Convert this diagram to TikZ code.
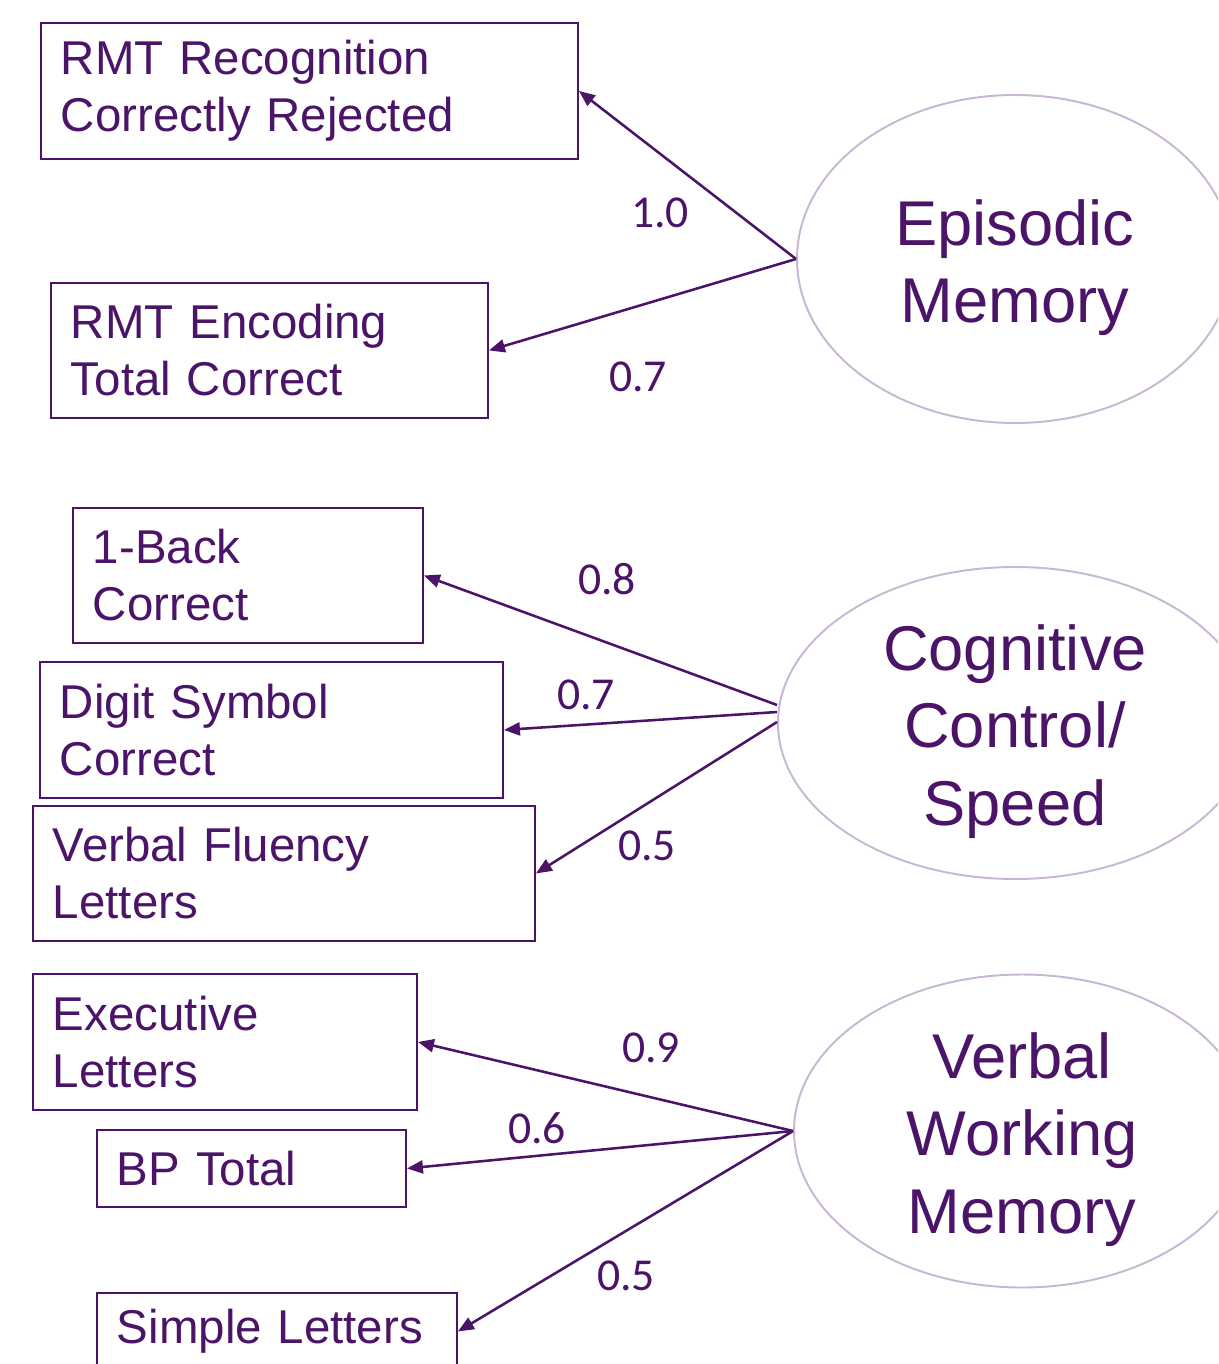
\documentclass[tikz,border=0pt]{standalone}
\usepackage{fontspec}
\setmainfont{Liberation Sans}
\newfontfamily\numfont{Carlito}
\usetikzlibrary{arrows.meta}
\usetikzlibrary{shapes.geometric}
\definecolor{plum}{HTML}{4B1468}
\definecolor{lilac}{HTML}{C8B6D4}

\begin{document}
\begin{tikzpicture}[->, >={Triangle[length=0.32cm,width=0.26cm]}, line width=1.45pt, color=plum,
        obs/.style={draw=plum, rectangle, line width=1.1pt, align=left, inner xsep=0.4cm, inner ysep=0pt,
                    anchor=north west, font=\fontsize{27}{32.5}\selectfont},
        latent/.style={draw=lilac, ellipse, line width=1.1pt, inner sep=0pt},
        lattext/.style={align=center, yshift=-0.17cm, font=\fontsize{36}{44}\selectfont},
        load/.style={font=\numfont\fontsize{26}{30}\selectfont}]
        \clip (0,0) rectangle (24.36,-27.28);

        \node[latent, minimum width=8.72cm, minimum height=6.56cm,
              label={[lattext]center:{Episodic\\Memory}}] (epi) at (20.30,-5.18) {};
        \node[latent, minimum width=9.48cm, minimum height=6.24cm,
              label={[lattext]center:{Cognitive\\Control/\\Speed}}] (cog) at (20.30,-14.46) {};
        \node[latent, minimum width=9.12cm, minimum height=6.26cm,
              label={[lattext]center:{Verbal\\Working\\Memory}}] (vwm) at (20.44,-22.62) {};

        \node[obs, text width=9.94cm, minimum height=2.72cm] (rmtrec) at (0.80,-0.44) {RMT Recognition\\Correctly Rejected};
        \node[obs, text width=7.94cm, minimum height=2.70cm] (rmtenc) at (1.00,-5.64) {RMT Encoding\\Total Correct};
        \node[obs, text width=6.20cm, minimum height=2.70cm] (oneback) at (1.44,-10.14) {1-Back\\Correct};
        \node[obs, text width=8.46cm, minimum height=2.72cm] (digit) at (0.78,-13.22) {Digit Symbol\\Correct};
        \node[obs, text width=9.24cm, minimum height=2.70cm] (fluency) at (0.64,-16.10) {Verbal Fluency\\Letters};
        \node[obs, text width=6.88cm, minimum height=2.72cm] (exec) at (0.64,-19.46) {Executive\\Letters};
        \node[obs, text width=5.38cm, minimum height=1.54cm] (bp) at (1.92,-22.58) {BP Total};
        \node[obs, text width=6.40cm, minimum height=1.54cm] (simple) at (1.92,-25.84) {Simple Letters};

        \node[load] (lrec) at (13.20,-4.26) {1.0};
        \node[load] (lenc) at (12.76,-7.54) {0.7};
        \node[load] (lback) at (12.14,-11.58) {0.8};
        \node[load] (ldigit) at (11.72,-13.90) {0.7};
        \node[load] (lflu) at (12.94,-16.92) {0.5};
        \node[load] (lexec) at (13.02,-20.96) {0.9};
        \node[load] (lbp) at (10.74,-22.56) {0.6};
        \node[load] (lsimple) at (12.52,-25.52) {0.5};

        \path (epi.west) edge (rmtrec.east)
              (epi.west) edge (rmtenc.east)
              ([yshift=0.36cm]cog.west) edge (oneback.east)
              ([yshift=0.22cm]cog.west) edge (digit.east)
              ([yshift=0.02cm]cog.west) edge (fluency.east)
              (vwm.west) edge (exec.east)
              (vwm.west) edge (bp.east)
              (vwm.west) edge (simple.east);
    \end{tikzpicture}
\end{document}
